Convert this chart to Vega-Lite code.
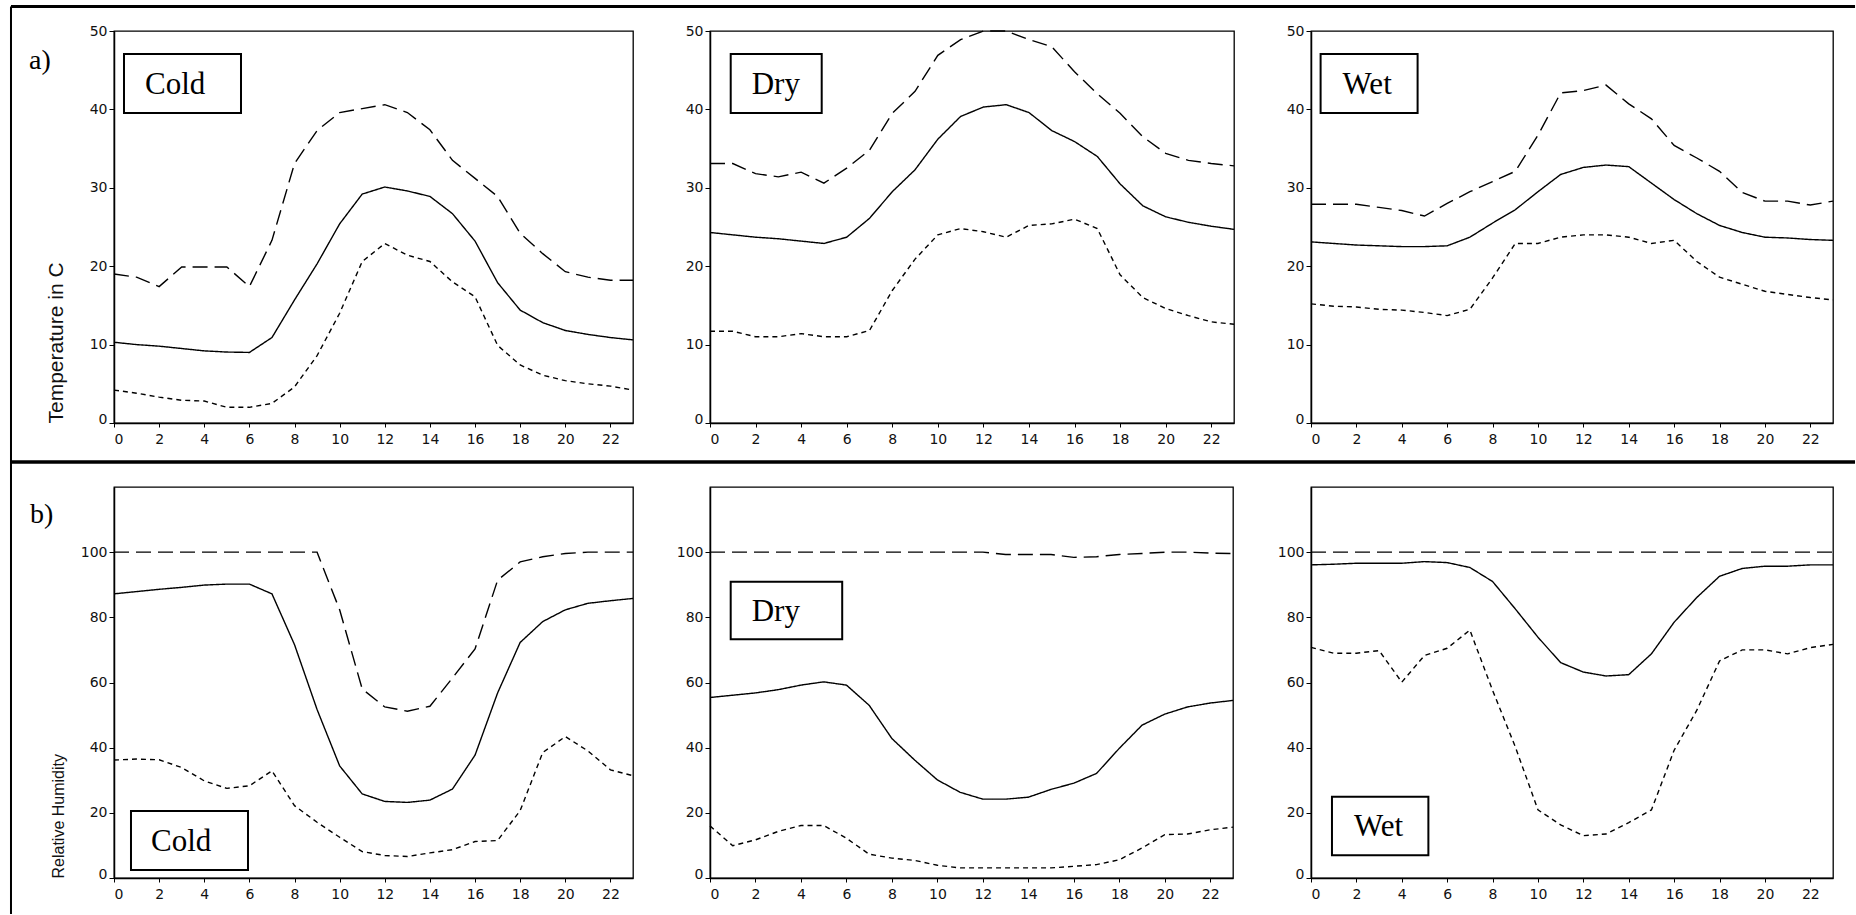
{
  "$schema": "https://vega.github.io/schema/vega-lite/v6.json",
  "background": "white",
  "padding": {"left": 8, "top": 4, "right": 0, "bottom": 0},
  "autosize": {"type": "pad"},
  "columns": 3,
  "spacing": {"row": 64, "column": 77},
  "bounds": "flush",
  "align": "each",
  "data": {"values": [
    {"c":"Cold","v":"T","h":0,"max":19,"mean":10.3,"min":4.2},
    {"c":"Cold","v":"T","h":1,"max":18.6,"mean":10.0,"min":3.8},
    {"c":"Cold","v":"T","h":2,"max":17.4,"mean":9.8,"min":3.3},
    {"c":"Cold","v":"T","h":3,"max":19.9,"mean":9.5,"min":2.9},
    {"c":"Cold","v":"T","h":4,"max":19.9,"mean":9.2,"min":2.8},
    {"c":"Cold","v":"T","h":5,"max":19.9,"mean":9.05,"min":2.0},
    {"c":"Cold","v":"T","h":6,"max":17.4,"mean":9.0,"min":2.0},
    {"c":"Cold","v":"T","h":7,"max":23.3,"mean":10.9,"min":2.5},
    {"c":"Cold","v":"T","h":8,"max":33.1,"mean":15.7,"min":4.6},
    {"c":"Cold","v":"T","h":9,"max":37.3,"mean":20.3,"min":8.6},
    {"c":"Cold","v":"T","h":10,"max":39.6,"mean":25.4,"min":14.0},
    {"c":"Cold","v":"T","h":11,"max":40.1,"mean":29.2,"min":20.6},
    {"c":"Cold","v":"T","h":12,"max":40.6,"mean":30.1,"min":22.9},
    {"c":"Cold","v":"T","h":13,"max":39.6,"mean":29.6,"min":21.4},
    {"c":"Cold","v":"T","h":14,"max":37.4,"mean":28.9,"min":20.6},
    {"c":"Cold","v":"T","h":15,"max":33.5,"mean":26.7,"min":18.0},
    {"c":"Cold","v":"T","h":16,"max":31.2,"mean":23.2,"min":16.1},
    {"c":"Cold","v":"T","h":17,"max":28.9,"mean":17.9,"min":9.9},
    {"c":"Cold","v":"T","h":18,"max":24.2,"mean":14.4,"min":7.4},
    {"c":"Cold","v":"T","h":19,"max":21.6,"mean":12.8,"min":6.1},
    {"c":"Cold","v":"T","h":20,"max":19.3,"mean":11.8,"min":5.4},
    {"c":"Cold","v":"T","h":21,"max":18.6,"mean":11.3,"min":5.0},
    {"c":"Cold","v":"T","h":22,"max":18.2,"mean":10.9,"min":4.7},
    {"c":"Cold","v":"T","h":23,"max":18.2,"mean":10.6,"min":4.2},
    {"c":"Dry","v":"T","h":0,"max":33.1,"mean":24.3,"min":11.7},
    {"c":"Dry","v":"T","h":1,"max":33.1,"mean":24.0,"min":11.7},
    {"c":"Dry","v":"T","h":2,"max":31.8,"mean":23.7,"min":11.0},
    {"c":"Dry","v":"T","h":3,"max":31.4,"mean":23.5,"min":11.0},
    {"c":"Dry","v":"T","h":4,"max":32.0,"mean":23.2,"min":11.4},
    {"c":"Dry","v":"T","h":5,"max":30.6,"mean":22.9,"min":11.0},
    {"c":"Dry","v":"T","h":6,"max":32.5,"mean":23.7,"min":11.0},
    {"c":"Dry","v":"T","h":7,"max":34.8,"mean":26.1,"min":11.8},
    {"c":"Dry","v":"T","h":8,"max":39.5,"mean":29.5,"min":16.9},
    {"c":"Dry","v":"T","h":9,"max":42.3,"mean":32.3,"min":20.9},
    {"c":"Dry","v":"T","h":10,"max":46.9,"mean":36.2,"min":24.0},
    {"c":"Dry","v":"T","h":11,"max":48.9,"mean":39.1,"min":24.8},
    {"c":"Dry","v":"T","h":12,"max":50.0,"mean":40.3,"min":24.4},
    {"c":"Dry","v":"T","h":13,"max":50.0,"mean":40.6,"min":23.7},
    {"c":"Dry","v":"T","h":14,"max":48.9,"mean":39.6,"min":25.2},
    {"c":"Dry","v":"T","h":15,"max":48.0,"mean":37.3,"min":25.4},
    {"c":"Dry","v":"T","h":16,"max":44.8,"mean":35.9,"min":26.0},
    {"c":"Dry","v":"T","h":17,"max":42.0,"mean":34.0,"min":24.8},
    {"c":"Dry","v":"T","h":18,"max":39.5,"mean":30.5,"min":18.9},
    {"c":"Dry","v":"T","h":19,"max":36.5,"mean":27.7,"min":16.0},
    {"c":"Dry","v":"T","h":20,"max":34.4,"mean":26.3,"min":14.6},
    {"c":"Dry","v":"T","h":21,"max":33.5,"mean":25.6,"min":13.7},
    {"c":"Dry","v":"T","h":22,"max":33.1,"mean":25.1,"min":12.9},
    {"c":"Dry","v":"T","h":23,"max":32.8,"mean":24.7,"min":12.6},
    {"c":"Wet","v":"T","h":0,"max":27.9,"mean":23.1,"min":15.2},
    {"c":"Wet","v":"T","h":1,"max":27.9,"mean":22.9,"min":14.9},
    {"c":"Wet","v":"T","h":2,"max":27.9,"mean":22.7,"min":14.8},
    {"c":"Wet","v":"T","h":3,"max":27.5,"mean":22.6,"min":14.5},
    {"c":"Wet","v":"T","h":4,"max":27.1,"mean":22.5,"min":14.4},
    {"c":"Wet","v":"T","h":5,"max":26.4,"mean":22.5,"min":14.1},
    {"c":"Wet","v":"T","h":6,"max":28.0,"mean":22.6,"min":13.7},
    {"c":"Wet","v":"T","h":7,"max":29.5,"mean":23.7,"min":14.5},
    {"c":"Wet","v":"T","h":8,"max":30.8,"mean":25.5,"min":18.5},
    {"c":"Wet","v":"T","h":9,"max":32.1,"mean":27.2,"min":22.9},
    {"c":"Wet","v":"T","h":10,"max":36.7,"mean":29.5,"min":22.9},
    {"c":"Wet","v":"T","h":11,"max":42.1,"mean":31.7,"min":23.7},
    {"c":"Wet","v":"T","h":12,"max":42.4,"mean":32.6,"min":24.0},
    {"c":"Wet","v":"T","h":13,"max":43.1,"mean":32.9,"min":24.0},
    {"c":"Wet","v":"T","h":14,"max":40.7,"mean":32.7,"min":23.7},
    {"c":"Wet","v":"T","h":15,"max":38.8,"mean":30.6,"min":22.9},
    {"c":"Wet","v":"T","h":16,"max":35.4,"mean":28.5,"min":23.3},
    {"c":"Wet","v":"T","h":17,"max":33.8,"mean":26.7,"min":20.6},
    {"c":"Wet","v":"T","h":18,"max":32.1,"mean":25.2,"min":18.6},
    {"c":"Wet","v":"T","h":19,"max":29.4,"mean":24.3,"min":17.7},
    {"c":"Wet","v":"T","h":20,"max":28.3,"mean":23.7,"min":16.8},
    {"c":"Wet","v":"T","h":21,"max":28.3,"mean":23.6,"min":16.4},
    {"c":"Wet","v":"T","h":22,"max":27.8,"mean":23.4,"min":16.0},
    {"c":"Wet","v":"T","h":23,"max":28.3,"mean":23.3,"min":15.7},
    {"c":"Cold","v":"RH","h":0,"max":100,"mean":87.2,"min":36.2},
    {"c":"Cold","v":"RH","h":1,"max":100,"mean":87.9,"min":36.5},
    {"c":"Cold","v":"RH","h":2,"max":100,"mean":88.6,"min":36.3},
    {"c":"Cold","v":"RH","h":3,"max":100,"mean":89.2,"min":33.9},
    {"c":"Cold","v":"RH","h":4,"max":100,"mean":89.9,"min":29.8},
    {"c":"Cold","v":"RH","h":5,"max":100,"mean":90.2,"min":27.5},
    {"c":"Cold","v":"RH","h":6,"max":100,"mean":90.2,"min":28.3},
    {"c":"Cold","v":"RH","h":7,"max":100,"mean":87.2,"min":32.9},
    {"c":"Cold","v":"RH","h":8,"max":100,"mean":71.6,"min":22.2},
    {"c":"Cold","v":"RH","h":9,"max":100,"mean":51.7,"min":17.1},
    {"c":"Cold","v":"RH","h":10,"max":82.3,"mean":34.4,"min":12.5},
    {"c":"Cold","v":"RH","h":11,"max":58.0,"mean":25.8,"min":8.1},
    {"c":"Cold","v":"RH","h":12,"max":52.5,"mean":23.5,"min":6.9},
    {"c":"Cold","v":"RH","h":13,"max":51.2,"mean":23.2,"min":6.6},
    {"c":"Cold","v":"RH","h":14,"max":52.7,"mean":23.9,"min":7.7},
    {"c":"Cold","v":"RH","h":15,"max":61.4,"mean":27.3,"min":8.7},
    {"c":"Cold","v":"RH","h":16,"max":70.3,"mean":37.7,"min":11.2},
    {"c":"Cold","v":"RH","h":17,"max":91.4,"mean":56.8,"min":11.5},
    {"c":"Cold","v":"RH","h":18,"max":97.0,"mean":72.3,"min":20.7},
    {"c":"Cold","v":"RH","h":19,"max":98.6,"mean":78.7,"min":38.5},
    {"c":"Cold","v":"RH","h":20,"max":99.6,"mean":82.3,"min":43.4},
    {"c":"Cold","v":"RH","h":21,"max":100,"mean":84.3,"min":39.0},
    {"c":"Cold","v":"RH","h":22,"max":100,"mean":85.1,"min":33.2},
    {"c":"Cold","v":"RH","h":23,"max":100,"mean":85.8,"min":31.4},
    {"c":"Dry","v":"RH","h":0,"max":100,"mean":55.4,"min":16.0},
    {"c":"Dry","v":"RH","h":1,"max":100,"mean":56.1,"min":9.9},
    {"c":"Dry","v":"RH","h":2,"max":100,"mean":56.8,"min":11.7},
    {"c":"Dry","v":"RH","h":3,"max":100,"mean":57.8,"min":14.3},
    {"c":"Dry","v":"RH","h":4,"max":100,"mean":59.2,"min":16.1},
    {"c":"Dry","v":"RH","h":5,"max":100,"mean":60.2,"min":16.1},
    {"c":"Dry","v":"RH","h":6,"max":100,"mean":59.2,"min":12.2},
    {"c":"Dry","v":"RH","h":7,"max":100,"mean":53.0,"min":7.3},
    {"c":"Dry","v":"RH","h":8,"max":100,"mean":42.8,"min":6.1},
    {"c":"Dry","v":"RH","h":9,"max":100,"mean":36.2,"min":5.4},
    {"c":"Dry","v":"RH","h":10,"max":100,"mean":30.1,"min":3.9},
    {"c":"Dry","v":"RH","h":11,"max":100,"mean":26.3,"min":3.1},
    {"c":"Dry","v":"RH","h":12,"max":100,"mean":24.2,"min":3.1},
    {"c":"Dry","v":"RH","h":13,"max":99.3,"mean":24.2,"min":3.1},
    {"c":"Dry","v":"RH","h":14,"max":99.3,"mean":24.8,"min":3.1},
    {"c":"Dry","v":"RH","h":15,"max":99.3,"mean":27.2,"min":3.1},
    {"c":"Dry","v":"RH","h":16,"max":98.4,"mean":29.1,"min":3.6},
    {"c":"Dry","v":"RH","h":17,"max":98.6,"mean":32.1,"min":4.1},
    {"c":"Dry","v":"RH","h":18,"max":99.3,"mean":39.8,"min":5.6},
    {"c":"Dry","v":"RH","h":19,"max":99.6,"mean":46.9,"min":9.2},
    {"c":"Dry","v":"RH","h":20,"max":100,"mean":50.3,"min":13.3},
    {"c":"Dry","v":"RH","h":21,"max":100,"mean":52.5,"min":13.5},
    {"c":"Dry","v":"RH","h":22,"max":99.7,"mean":53.7,"min":14.8},
    {"c":"Dry","v":"RH","h":23,"max":99.6,"mean":54.5,"min":15.6},
    {"c":"Wet","v":"RH","h":0,"max":100,"mean":96.1,"min":70.8},
    {"c":"Wet","v":"RH","h":1,"max":100,"mean":96.3,"min":69.0},
    {"c":"Wet","v":"RH","h":2,"max":100,"mean":96.6,"min":69.0},
    {"c":"Wet","v":"RH","h":3,"max":100,"mean":96.6,"min":69.8},
    {"c":"Wet","v":"RH","h":4,"max":100,"mean":96.6,"min":60.1},
    {"c":"Wet","v":"RH","h":5,"max":100,"mean":97.1,"min":68.3},
    {"c":"Wet","v":"RH","h":6,"max":100,"mean":96.8,"min":70.5},
    {"c":"Wet","v":"RH","h":7,"max":100,"mean":95.3,"min":76.1},
    {"c":"Wet","v":"RH","h":8,"max":100,"mean":91.0,"min":57.6},
    {"c":"Wet","v":"RH","h":9,"max":100,"mean":82.6,"min":40.3},
    {"c":"Wet","v":"RH","h":10,"max":100,"mean":73.9,"min":20.9},
    {"c":"Wet","v":"RH","h":11,"max":100,"mean":66.1,"min":16.3},
    {"c":"Wet","v":"RH","h":12,"max":100,"mean":63.2,"min":13.0},
    {"c":"Wet","v":"RH","h":13,"max":100,"mean":62.0,"min":13.5},
    {"c":"Wet","v":"RH","h":14,"max":100,"mean":62.4,"min":17.0},
    {"c":"Wet","v":"RH","h":15,"max":100,"mean":68.8,"min":20.9},
    {"c":"Wet","v":"RH","h":16,"max":100,"mean":78.5,"min":39.2},
    {"c":"Wet","v":"RH","h":17,"max":100,"mean":86.1,"min":51.5},
    {"c":"Wet","v":"RH","h":18,"max":100,"mean":92.6,"min":66.6},
    {"c":"Wet","v":"RH","h":19,"max":100,"mean":95.0,"min":70.0},
    {"c":"Wet","v":"RH","h":20,"max":100,"mean":95.7,"min":70.0},
    {"c":"Wet","v":"RH","h":21,"max":100,"mean":95.7,"min":68.8},
    {"c":"Wet","v":"RH","h":22,"max":100,"mean":96.1,"min":70.7},
    {"c":"Wet","v":"RH","h":23,"max":100,"mean":96.1,"min":71.7}
  ]},
  "concat": [
    {
      "width": 519, "height": 392,
      "layer": [
        {
          "transform": [{"filter": "datum.c === 'Cold' && datum.v === 'T'"}, {"fold": ["max", "mean", "min"], "as": ["stat", "value"]}],
          "mark": {"type": "line", "color": "black", "strokeWidth": 1.4},
          "encoding": {
            "x": {"field": "h", "type": "quantitative", "scale": {"domain": [0, 23], "nice": false, "zero": false}, "axis": {"values": [0,2,4,6,8,10,12,14,16,18,20,22], "title": null, "labelFont": "DejaVu Sans", "labelFontSize": 14, "labelColor": "#111111", "tickSize": 4, "labelPadding": 5}},
            "y": {"field": "value", "type": "quantitative", "scale": {"domain": [0, 50], "nice": false}, "axis": {"values": [0,10,20,30,40,50], "title": "Temperature in C", "titleFontSize": 21, "titlePadding": 23, "labelFont": "DejaVu Sans", "labelFontSize": 14, "labelColor": "#111111", "tickSize": 5, "labelPadding": 2, "labelBaseline": {"condition": {"test": "datum.value === 0", "value": "alphabetic"}, "value": "middle"}}},
            "strokeDash": {"field": "stat", "type": "nominal", "scale": {"domain": ["max", "mean", "min"], "range": [[15, 7], [1, 0], [5, 4]]}, "legend": null}
          }
        },
        {
          "data": {"values": [{}]},
          "mark": {"type": "rect", "fill": "white", "stroke": "black", "strokeWidth": 2},
          "encoding": {"x": {"datum": 0.443, "type": "quantitative"}, "x2": {"datum": 5.628}, "y": {"datum": 47.07, "type": "quantitative"}, "y2": {"datum": 39.54}}
        },
        {
          "data": {"values": [{}]},
          "mark": {"type": "text", "text": "Cold", "font": "Liberation Serif", "fontSize": 31, "align": "left", "baseline": "alphabetic", "color": "black"},
          "encoding": {"x": {"datum": 1.374, "type": "quantitative"}, "y": {"datum": 41.96, "type": "quantitative"}}
        },
        {
          "data": {"values": [{}]},
          "mark": {"type": "text", "text": "a)", "font": "Liberation Serif", "fontSize": 28, "align": "left", "baseline": "alphabetic", "color": "black"},
          "encoding": {"x": {"datum": -3.767, "type": "quantitative"}, "y": {"datum": 45.2, "type": "quantitative"}}
        },
        {
          "data": {"values": [{}]},
          "mark": {"type": "rule", "color": "black", "strokeWidth": 3},
          "encoding": {"x": {"datum": -4.565, "type": "quantitative"}, "x2": {"datum": 77.155}, "y": {"datum": 53.125, "type": "quantitative"}}
        },
        {
          "data": {"values": [{}]},
          "mark": {"type": "rule", "color": "black", "strokeWidth": 2},
          "encoding": {"x": {"datum": -4.565, "type": "quantitative"}, "y": {"datum": 53.125, "type": "quantitative"}, "y2": {"datum": -62.63}}
        },
        {
          "data": {"values": [{}]},
          "mark": {"type": "rule", "color": "black", "strokeWidth": 3.5},
          "encoding": {"x": {"datum": -4.565, "type": "quantitative"}, "x2": {"datum": 77.155}, "y": {"datum": -4.974, "type": "quantitative"}}
        }
      ]
    },
    {
      "width": 524, "height": 392,
      "layer": [
        {
          "transform": [{"filter": "datum.c === 'Dry' && datum.v === 'T'"}, {"fold": ["max", "mean", "min"], "as": ["stat", "value"]}],
          "mark": {"type": "line", "color": "black", "strokeWidth": 1.4},
          "encoding": {
            "x": {"field": "h", "type": "quantitative", "scale": {"domain": [0, 23], "nice": false, "zero": false}, "axis": {"values": [0,2,4,6,8,10,12,14,16,18,20,22], "title": null, "labelFont": "DejaVu Sans", "labelFontSize": 14, "labelColor": "#111111", "tickSize": 4, "labelPadding": 5}},
            "y": {"field": "value", "type": "quantitative", "scale": {"domain": [0, 50], "nice": false}, "axis": {"values": [0,10,20,30,40,50], "title": null, "labelFont": "DejaVu Sans", "labelFontSize": 14, "labelColor": "#111111", "tickSize": 5, "labelPadding": 2, "labelBaseline": {"condition": {"test": "datum.value === 0", "value": "alphabetic"}, "value": "middle"}}},
            "strokeDash": {"field": "stat", "type": "nominal", "scale": {"domain": ["max", "mean", "min"], "range": [[15, 7], [1, 0], [5, 4]]}, "legend": null}
          }
        },
        {
          "data": {"values": [{}]},
          "mark": {"type": "rect", "fill": "white", "stroke": "black", "strokeWidth": 2},
          "encoding": {"x": {"datum": 0.909, "type": "quantitative"}, "x2": {"datum": 4.903}, "y": {"datum": 47.07, "type": "quantitative"}, "y2": {"datum": 39.54}}
        },
        {
          "data": {"values": [{}]},
          "mark": {"type": "text", "text": "Dry", "font": "Liberation Serif", "fontSize": 31, "align": "left", "baseline": "alphabetic", "color": "black"},
          "encoding": {"x": {"datum": 1.83, "type": "quantitative"}, "y": {"datum": 41.96, "type": "quantitative"}}
        }
      ]
    },
    {
      "width": 522, "height": 392,
      "layer": [
        {
          "transform": [{"filter": "datum.c === 'Wet' && datum.v === 'T'"}, {"fold": ["max", "mean", "min"], "as": ["stat", "value"]}],
          "mark": {"type": "line", "color": "black", "strokeWidth": 1.4},
          "encoding": {
            "x": {"field": "h", "type": "quantitative", "scale": {"domain": [0, 23], "nice": false, "zero": false}, "axis": {"values": [0,2,4,6,8,10,12,14,16,18,20,22], "title": null, "labelFont": "DejaVu Sans", "labelFontSize": 14, "labelColor": "#111111", "tickSize": 4, "labelPadding": 5}},
            "y": {"field": "value", "type": "quantitative", "scale": {"domain": [0, 50], "nice": false}, "axis": {"values": [0,10,20,30,40,50], "title": null, "labelFont": "DejaVu Sans", "labelFontSize": 14, "labelColor": "#111111", "tickSize": 5, "labelPadding": 2, "labelBaseline": {"condition": {"test": "datum.value === 0", "value": "alphabetic"}, "value": "middle"}}},
            "strokeDash": {"field": "stat", "type": "nominal", "scale": {"domain": ["max", "mean", "min"], "range": [[15, 7], [1, 0], [5, 4]]}, "legend": null}
          }
        },
        {
          "data": {"values": [{}]},
          "mark": {"type": "rect", "fill": "white", "stroke": "black", "strokeWidth": 2},
          "encoding": {"x": {"datum": 0.423, "type": "quantitative"}, "x2": {"datum": 4.697}, "y": {"datum": 47.07, "type": "quantitative"}, "y2": {"datum": 39.54}}
        },
        {
          "data": {"values": [{}]},
          "mark": {"type": "text", "text": "Wet", "font": "Liberation Serif", "fontSize": 31, "align": "left", "baseline": "alphabetic", "color": "black"},
          "encoding": {"x": {"datum": 1.392, "type": "quantitative"}, "y": {"datum": 41.96, "type": "quantitative"}}
        }
      ]
    },
    {
      "width": 519, "height": 391,
      "layer": [
        {
          "transform": [{"filter": "datum.c === 'Cold' && datum.v === 'RH'"}, {"fold": ["max", "mean", "min"], "as": ["stat", "value"]}],
          "mark": {"type": "line", "color": "black", "strokeWidth": 1.4},
          "encoding": {
            "x": {"field": "h", "type": "quantitative", "scale": {"domain": [0, 23], "nice": false, "zero": false}, "axis": {"values": [0,2,4,6,8,10,12,14,16,18,20,22], "title": null, "labelFont": "DejaVu Sans", "labelFontSize": 14, "labelColor": "#111111", "tickSize": 4, "labelPadding": 5}},
            "y": {"field": "value", "type": "quantitative", "scale": {"domain": [0, 120], "nice": false}, "axis": {"values": [0,20,40,60,80,100], "title": "Relative Humidity", "titleFontSize": 16, "titlePadding": 14, "labelFont": "DejaVu Sans", "labelFontSize": 14, "labelColor": "#111111", "tickSize": 5, "labelPadding": 2, "labelBaseline": {"condition": {"test": "datum.value === 0", "value": "alphabetic"}, "value": "middle"}}},
            "strokeDash": {"field": "stat", "type": "nominal", "scale": {"domain": ["max", "mean", "min"], "range": [[15, 7], [1, 0], [5, 4]]}, "legend": null}
          }
        },
        {
          "data": {"values": [{}]},
          "mark": {"type": "rect", "fill": "white", "stroke": "black", "strokeWidth": 2},
          "encoding": {"x": {"datum": 0.753, "type": "quantitative"}, "x2": {"datum": 5.938}, "y": {"datum": 20.56, "type": "quantitative"}, "y2": {"datum": 2.455}}
        },
        {
          "data": {"values": [{}]},
          "mark": {"type": "text", "text": "Cold", "font": "Liberation Serif", "fontSize": 31, "align": "left", "baseline": "alphabetic", "color": "black"},
          "encoding": {"x": {"datum": 1.64, "type": "quantitative"}, "y": {"datum": 8.29, "type": "quantitative"}}
        },
        {
          "data": {"values": [{}]},
          "mark": {"type": "text", "text": "b)", "font": "Liberation Serif", "fontSize": 28, "align": "left", "baseline": "alphabetic", "color": "black"},
          "encoding": {"x": {"datum": -3.723, "type": "quantitative"}, "y": {"datum": 108.95, "type": "quantitative"}}
        }
      ]
    },
    {
      "width": 523, "height": 391,
      "layer": [
        {
          "transform": [{"filter": "datum.c === 'Dry' && datum.v === 'RH'"}, {"fold": ["max", "mean", "min"], "as": ["stat", "value"]}],
          "mark": {"type": "line", "color": "black", "strokeWidth": 1.4},
          "encoding": {
            "x": {"field": "h", "type": "quantitative", "scale": {"domain": [0, 23], "nice": false, "zero": false}, "axis": {"values": [0,2,4,6,8,10,12,14,16,18,20,22], "title": null, "labelFont": "DejaVu Sans", "labelFontSize": 14, "labelColor": "#111111", "tickSize": 4, "labelPadding": 5}},
            "y": {"field": "value", "type": "quantitative", "scale": {"domain": [0, 120], "nice": false}, "axis": {"values": [0,20,40,60,80,100], "title": null, "labelFont": "DejaVu Sans", "labelFontSize": 14, "labelColor": "#111111", "tickSize": 5, "labelPadding": 2, "labelBaseline": {"condition": {"test": "datum.value === 0", "value": "alphabetic"}, "value": "middle"}}},
            "strokeDash": {"field": "stat", "type": "nominal", "scale": {"domain": ["max", "mean", "min"], "range": [[15, 7], [1, 0], [5, 4]]}, "legend": null}
          }
        },
        {
          "data": {"values": [{}]},
          "mark": {"type": "rect", "fill": "white", "stroke": "black", "strokeWidth": 2},
          "encoding": {"x": {"datum": 0.91, "type": "quantitative"}, "x2": {"datum": 5.814}, "y": {"datum": 90.94, "type": "quantitative"}, "y2": {"datum": 73.26}}
        },
        {
          "data": {"values": [{}]},
          "mark": {"type": "text", "text": "Dry", "font": "Liberation Serif", "fontSize": 31, "align": "left", "baseline": "alphabetic", "color": "black"},
          "encoding": {"x": {"datum": 1.834, "type": "quantitative"}, "y": {"datum": 78.87, "type": "quantitative"}}
        }
      ]
    },
    {
      "width": 522, "height": 391,
      "layer": [
        {
          "transform": [{"filter": "datum.c === 'Wet' && datum.v === 'RH'"}, {"fold": ["max", "mean", "min"], "as": ["stat", "value"]}],
          "mark": {"type": "line", "color": "black", "strokeWidth": 1.4},
          "encoding": {
            "x": {"field": "h", "type": "quantitative", "scale": {"domain": [0, 23], "nice": false, "zero": false}, "axis": {"values": [0,2,4,6,8,10,12,14,16,18,20,22], "title": null, "labelFont": "DejaVu Sans", "labelFontSize": 14, "labelColor": "#111111", "tickSize": 4, "labelPadding": 5}},
            "y": {"field": "value", "type": "quantitative", "scale": {"domain": [0, 120], "nice": false}, "axis": {"values": [0,20,40,60,80,100], "title": null, "labelFont": "DejaVu Sans", "labelFontSize": 14, "labelColor": "#111111", "tickSize": 5, "labelPadding": 2, "labelBaseline": {"condition": {"test": "datum.value === 0", "value": "alphabetic"}, "value": "middle"}}},
            "strokeDash": {"field": "stat", "type": "nominal", "scale": {"domain": ["max", "mean", "min"], "range": [[15, 7], [1, 0], [5, 4]]}, "legend": null}
          }
        },
        {
          "data": {"values": [{}]},
          "mark": {"type": "rect", "fill": "white", "stroke": "black", "strokeWidth": 2},
          "encoding": {"x": {"datum": 0.924, "type": "quantitative"}, "x2": {"datum": 5.172}, "y": {"datum": 24.95, "type": "quantitative"}, "y2": {"datum": 6.97}}
        },
        {
          "data": {"values": [{}]},
          "mark": {"type": "text", "text": "Wet", "font": "Liberation Serif", "fontSize": 31, "align": "left", "baseline": "alphabetic", "color": "black"},
          "encoding": {"x": {"datum": 1.891, "type": "quantitative"}, "y": {"datum": 12.89, "type": "quantitative"}}
        }
      ]
    }
  ],
  "config": {
    "view": {"stroke": "black", "strokeWidth": 1.3},
    "axis": {"grid": false, "domainColor": "black", "domainWidth": 1.5, "tickColor": "black", "tickWidth": 1, "titleFont": "Liberation Sans", "titleFontWeight": "normal", "titleColor": "#111111"},
    "axisY": {"titleAnchor": "start"}
  }
}
